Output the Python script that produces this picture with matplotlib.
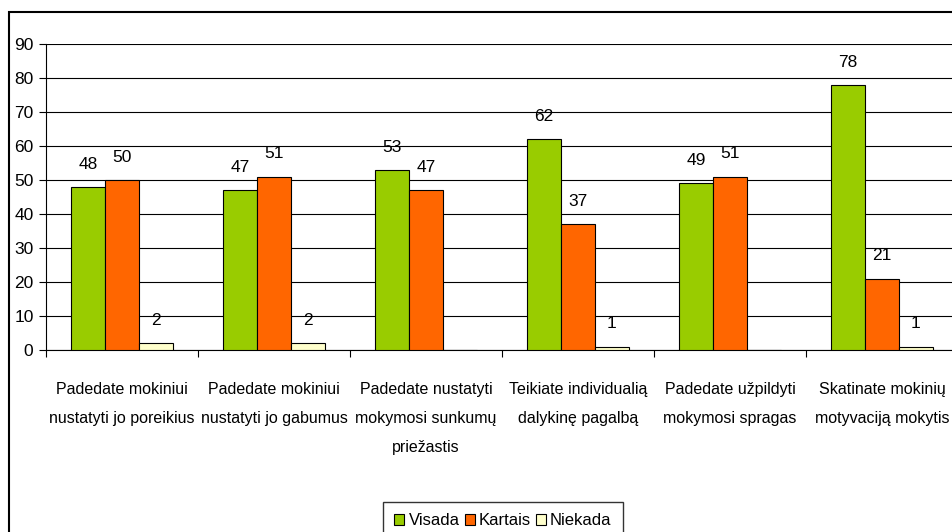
import matplotlib.pyplot as plt
import numpy as np
from matplotlib.patches import Rectangle

plt.rcParams['font.family'] = ['Liberation Sans', 'DejaVu Sans']

categories = [
    "Padedate mokiniui\nnustatyti jo poreikius",
    "Padedate mokiniui\nnustatyti jo gabumus",
    "Padedate nustatyti\nmokymosi sunkumų\npriežastis",
    "Teikiate individualią\ndalykinę pagalbą",
    "Padedate užpildyti\nmokymosi spragas",
    "Skatinate mokinių\nmotyvaciją mokytis",
]
visada = [48, 47, 53, 62, 49, 78]
kartais = [50, 51, 47, 37, 51, 21]
niekada = [2, 2, 0, 1, 0, 1]
series_names = ["Visada", "Kartais", "Niekada"]
colors = ["#99CC00", "#FF6600", "#FFFFCC"]
yticks = list(range(0, 100, 10))

fig = plt.figure(figsize=(9.52, 5.32), dpi=100)
W, H = 952, 532
ax = fig.add_axes([46 / W, (H - 350) / H, 912 / W, 306 / H])

x = np.arange(len(categories))
bw = 0.223
for i, (vals, name, col) in enumerate(zip([visada, kartais, niekada], series_names, colors)):
    pos = x + (i - 1) * bw
    bars = ax.bar(pos, vals, bw, color=col, edgecolor="black", linewidth=0.8,
                  label=name, zorder=3)
    for b, v in zip(bars, vals):
        if v == 0:
            continue
        ax.annotate(str(v), (b.get_x() + b.get_width() / 2, v),
                    xytext=(0, 11), textcoords="offset points",
                    ha="center", va="bottom", fontsize=12.5)

ax.set_xlim(-0.5, len(categories) - 0.5)
ax.set_ylim(0, 90)
ax.set_yticks(yticks)
ax.set_yticklabels([str(t) for t in yticks], fontsize=12.5)
ax.grid(axis="y", color="black", linewidth=0.8, zorder=0)
ax.set_axisbelow(True)

ax.set_xticks(x)
ax.set_xticklabels(categories, fontsize=11.5, linespacing=2.15)
ax.set_xticks(np.arange(len(categories) + 1) - 0.5, minor=True)
ax.tick_params(axis="x", which="major", length=0, pad=23)
ax.tick_params(axis="x", which="minor", length=5, width=0.8, direction="out")
ax.tick_params(axis="y", length=5, width=0.8, pad=4)

for s in ["top", "right"]:
    ax.spines[s].set_visible(False)
ax.spines["left"].set_linewidth(0.8)
ax.spines["bottom"].set_linewidth(0.8)

leg = ax.legend(loc="lower center", bbox_to_anchor=(503 / W, -8 / H),
                bbox_transform=fig.transFigure, ncol=3, frameon=True,
                fancybox=False, edgecolor="black", fontsize=12,
                handlelength=0.6, handleheight=0.6, handletextpad=0.25,
                columnspacing=0.3, borderpad=0.7, borderaxespad=0)
leg.get_frame().set_linewidth(1.0)

fig.patches.append(Rectangle((9 / W, -0.1), 1.2, 1.1 - 12 / H,
                             transform=fig.transFigure, fill=False,
                             edgecolor="black", linewidth=1.5))

fig.savefig("out.png", dpi=100)
